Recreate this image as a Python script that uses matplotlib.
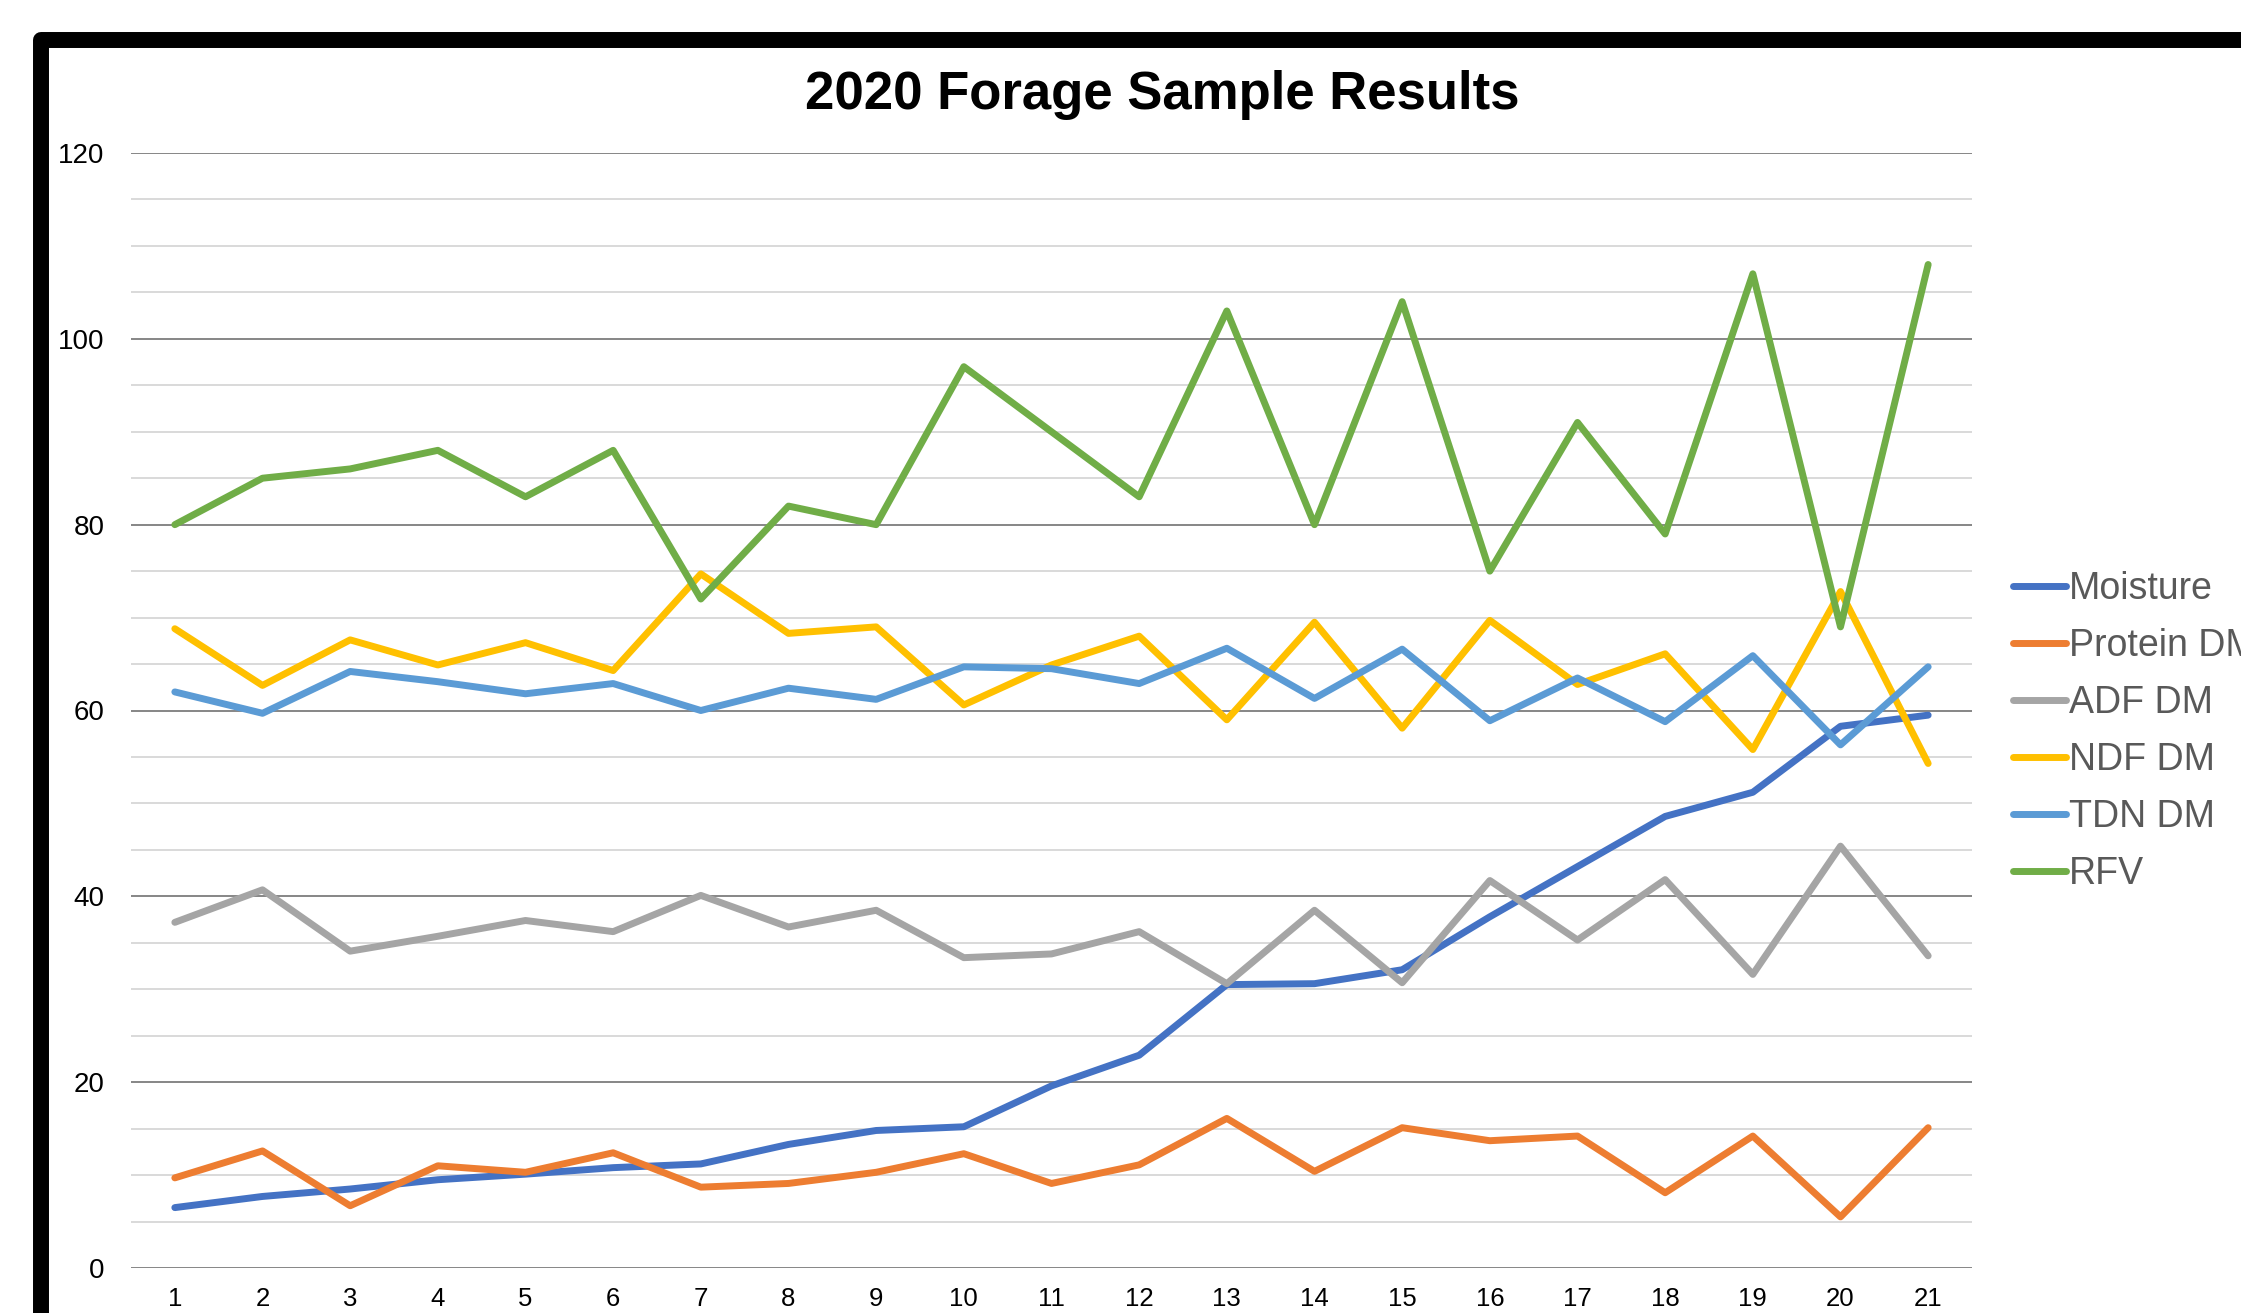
import matplotlib
matplotlib.use("Agg")
import matplotlib.pyplot as plt
from matplotlib.patches import Rectangle
from matplotlib.ticker import MultipleLocator

plt.rcParams["font.family"] = ["Liberation Sans", "DejaVu Sans"]

# values
samples = list(range(1, 22))
moisture = [6.5, 7.7, 8.5, 9.5, 10.1, 10.8, 11.2, 13.3, 14.8, 15.2, 19.6,
            22.9, 30.5, 30.6, 32.1, 37.8, 43.2, 48.6, 51.2, 58.3, 59.5]
protein = [9.7, 12.6, 6.7, 11.0, 10.3, 12.4, 8.7, 9.1, 10.3, 12.3, 9.1,
           11.1, 16.1, 10.4, 15.1, 13.7, 14.2, 8.1, 14.2, 5.5, 15.1]
adf = [37.2, 40.7, 34.1, 35.7, 37.4, 36.2, 40.1, 36.7, 38.5, 33.4, 33.8,
       36.2, 30.6, 38.5, 30.7, 41.7, 35.3, 41.8, 31.6, 45.4, 33.6]
ndf = [68.8, 62.7, 67.6, 64.9, 67.3, 64.3, 74.7, 68.3, 69.0, 60.6, 64.9,
       68.0, 59.0, 69.5, 58.1, 69.7, 62.8, 66.1, 55.8, 72.8, 54.3]
tdn = [62.0, 59.7, 64.2, 63.1, 61.8, 62.9, 60.0, 62.4, 61.2, 64.7, 64.5,
       62.9, 66.7, 61.3, 66.6, 58.9, 63.5, 58.8, 65.9, 56.3, 64.7]
rfv = [80, 85, 86, 88, 83, 88, 72, 82, 80, 97, 90,
       83, 103, 80, 104, 75, 91, 79, 107, 69, 108]

series_names = ["Moisture", "Protein DM", "ADF DM", "NDF DM", "TDN DM", "RFV"]
series_values = [moisture, protein, adf, ndf, tdn, rfv]
colors = ["#4472C4", "#ED7D31", "#A5A5A5", "#FFC000", "#5B9BD5", "#70AD47"]

W, H = 2241, 1313
fig = plt.figure(figsize=(W / 100, H / 100), dpi=100)
ax = fig.add_axes([131 / W, 1 - 1268 / H, (1972 - 131) / W, (1268 - 153) / H])

for name, vals, c in zip(series_names, series_values, colors):
    ax.plot(samples, vals, color=c, lw=5, label=name,
            solid_joinstyle="round", solid_capstyle="round")

ax.set_xlim(0.5, 21.5)
ax.set_ylim(0, 120)
ax.set_xticks(samples)
ax.yaxis.set_major_locator(MultipleLocator(20))
ax.yaxis.set_minor_locator(MultipleLocator(5))
ax.set_axisbelow(True)
ax.grid(which="major", axis="y", color="#868686", lw=1.4)
ax.grid(which="minor", axis="y", color="#d9d9d9", lw=1.4)
ax.get_ygridlines()[0].set_color("#d9d9d9")
for s in ax.spines.values():
    s.set_visible(False)
ax.tick_params(axis="both", which="both", length=0)
ax.tick_params(axis="y", pad=19, labelsize=20)
ax.tick_params(axis="x", pad=14, labelsize=18.5)

leg = ax.legend(loc="center left", bbox_to_anchor=(2013 / W, 1 - 731.5 / H),
                bbox_transform=fig.transFigure, frameon=False, fontsize=27,
                handlelength=1.4, handletextpad=0.1, labelspacing=0.556,
                borderpad=0, borderaxespad=0)
for t in leg.get_texts():
    t.set_color("#595959")

fig.text(1162 / W, 1 - 95 / H, "2020 Forage Sample Results", ha="center",
         va="center", fontsize=38, fontweight="bold")

# thick black frame, cropped at right and bottom
frame = Rectangle((40.5 / W, -0.2), 1.3, 1.2 - 39.7 / H, transform=fig.transFigure,
                  fill=False, ec="black", lw=11.5, joinstyle="round")
fig.add_artist(frame)

fig.savefig("out.png", dpi=100)
